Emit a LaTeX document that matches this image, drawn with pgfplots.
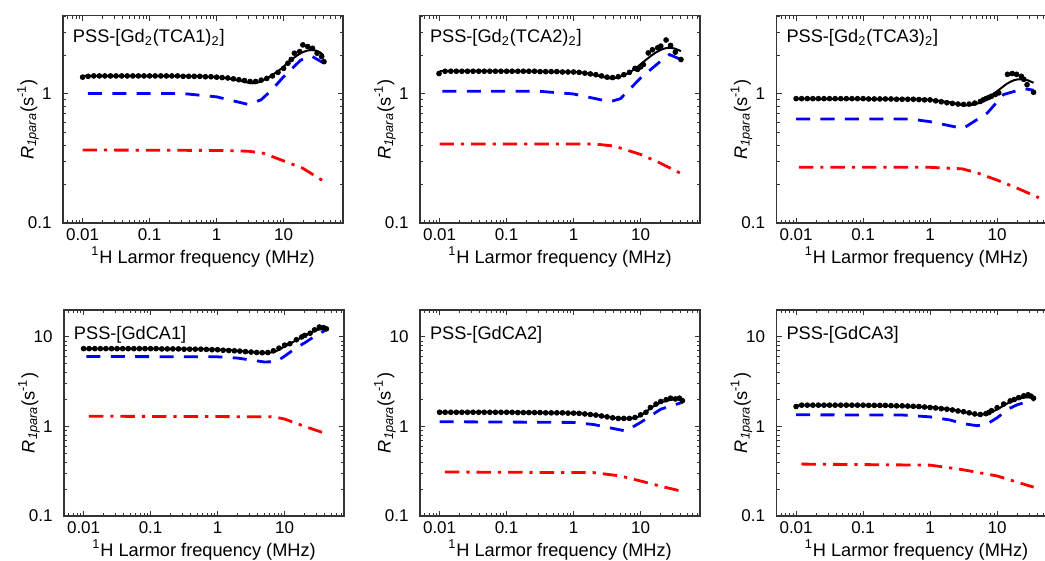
\documentclass[border=0pt]{standalone}
\usepackage{pgfplots}
\pgfplotsset{compat=1.18}
\usepackage{fontspec}
\setmainfont{Liberation Sans}

\pgfplotsset{
  every axis/.append style={
    xmode=log, ymode=log, scale only axis, width=140pt,
    xmin=0.0051, xmax=77,
    xtick={0.01,0.1,1,10}, xticklabels={0.01,0.1,1,10},
    minor xtick={0.006,0.007,0.008,0.009,0.02,0.03,0.04,0.05,0.06,0.07,0.08,0.09,0.2,0.3,0.4,0.5,0.6,0.7,0.8,0.9,2,3,4,5,6,7,8,9,20,30,40,50,60,70},
    tick align=inside, major tick length=2.6pt, minor tick length=1.5pt,
    axis line style={draw=black!80, line width=0.6pt},
    tick style={black!80, line width=0.5pt},
    tick label style={font=\fontsize{8.5}{9}\selectfont},
    xticklabel style={yshift=-1.6pt, inner sep=1pt, anchor=north},
    yticklabel style={xshift=-2.2pt},
    label style={font=\fontsize{9.1}{10}\selectfont},
    xlabel={\textsuperscript{1}H Larmor frequency (MHz)},
    xlabel style={at={(axis description cs:0.5,0)}, anchor=base, inner sep=0pt, yshift=-20.2pt},
    ylabel={\textit{R}\textsubscript{\textit{1para}}(s\textsuperscript{-1})},
    ylabel style={at={(axis description cs:-0.125,0.5)}, anchor=center},
    anchor=south west,
  },
}
\tikzset{
  rdots/.style={mark=*, mark size=1.2pt, black, draw=none},
  rfit/.style={black, line width=1pt, smooth},
  rinner/.style={blue, line width=1.4pt, dash pattern=on 7pt off 5.2pt},
  router/.style={red, line width=1.4pt, dash pattern=on 7.2pt off 3.5pt on 1.6pt off 3.5pt},
}
\newcommand{\paneltitle}[2]{\node[anchor=base west, inner sep=0pt, font=\fontsize{9.1}{10}\selectfont]
  at ([xshift=4.8pt,yshift=-#2]rel axis cs:0,1) {#1};}

\begin{document}
\begin{tikzpicture}

% ---- top row ----
\begin{axis}[at={(31.5pt,169pt)}, height=103.7pt, ymin=0.1, ymax=4.05,
    ytick={0.1,1}, yticklabels={0.1,1}, minor ytick={0.2,0.3,0.4,0.5,0.6,0.7,0.8,0.9,2,3,4}]
\addplot[rdots, only marks] coordinates {
(0.01,1.35)(0.0121,1.37)(0.0147,1.38)(0.0178,1.38)(0.0215,1.38)(0.0261,1.38)(0.0316,1.38)(0.0383,1.38)(0.0464,1.38)(0.0562,1.38)(0.0681,1.38)(0.0825,1.38)
(0.1,1.38)(0.121,1.38)(0.147,1.38)(0.178,1.38)(0.215,1.38)(0.261,1.38)(0.316,1.37)(0.383,1.37)(0.464,1.37)(0.562,1.37)(0.681,1.36)(0.825,1.36)
(1,1.35)(1.21,1.34)(1.47,1.33)(1.78,1.31)(2.15,1.29)(2.61,1.27)(3.16,1.25)(3.83,1.25)(4.64,1.28)(5.62,1.32)(6.81,1.38)(8.25,1.47)
(10,1.58)(11.6,1.73)(13,1.85)(14.5,2.07)(17.4,2.13)(19.4,2.40)(22.9,2.33)(27,2.26)(31.6,2.07)(37,1.95)(40,1.78)};
\addplot[rfit, no marks] coordinates {
(0.01,1.38)(0.1,1.38)(0.5,1.37)(1,1.35)(1.5,1.32)(2,1.28)(2.5,1.25)(3,1.22)(3.5,1.21)(4,1.22)(5,1.28)(6,1.35)(7,1.42)
(8.5,1.52)(10,1.63)(12,1.78)(14.5,1.92)(18,2.07)(22,2.16)(25,2.19)(30,2.17)(35,2.10)(39,2.0)};
\addplot[rinner, no marks] coordinates {
(0.012,1.01)(0.3,1.01)(1,0.95)(2.95,0.83)(4.6,0.90)(6.6,1.07)(10,1.36)(18,1.83)(26,1.97)(38,1.76)};
\addplot[router, no marks] coordinates {
(0.01,0.368)(1,0.365)(3,0.36)(5,0.347)(10,0.303)(19.5,0.265)(40,0.21)};
\paneltitle{PSS-[Gd\textsubscript{2}(TCA1)\textsubscript{2}]}{13.6pt}
\end{axis}

\begin{axis}[at={(210pt,169pt)}, height=103.7pt, ymin=0.1, ymax=4.05,
    ytick={0.1,1}, yticklabels={0.1,1}, minor ytick={0.2,0.3,0.4,0.5,0.6,0.7,0.8,0.9,2,3,4}]
\addplot[rdots, only marks] coordinates {
(0.0098,1.44)(0.0121,1.50)(0.0147,1.50)(0.0178,1.50)(0.0215,1.50)(0.0261,1.50)(0.0316,1.50)(0.0383,1.50)(0.0464,1.50)(0.0562,1.50)(0.0681,1.50)(0.0825,1.50)
(0.1,1.50)(0.121,1.50)(0.147,1.50)(0.178,1.50)(0.215,1.50)(0.261,1.50)(0.316,1.49)(0.383,1.49)(0.464,1.49)(0.562,1.49)(0.681,1.48)(0.825,1.48)
(1,1.48)(1.21,1.47)(1.47,1.45)(1.78,1.43)(2.15,1.41)(2.61,1.38)(3.16,1.35)(3.83,1.34)(4.64,1.36)(5.62,1.41)(6.81,1.47)(8.25,1.58)(9,1.55)
(10,1.62)(11,1.69)(13,2.08)(15,2.20)(18,2.28)(20,2.35)(24,2.62)(28,2.38)(33,2.11)(40,1.85)};
\addplot[rfit, no marks] coordinates {
(0.01,1.50)(0.1,1.50)(1,1.48)(2,1.41)(3,1.34)(3.5,1.32)(4.5,1.34)(6,1.42)(8,1.55)(10,1.70)(13,1.90)(17,2.10)(22,2.24)
(27,2.28)(32,2.25)(40,2.15)};
\addplot[rinner, no marks] coordinates {
(0.011,1.05)(0.3,1.05)(1,1.00)(3.5,0.87)(5,0.92)(10,1.33)(20,1.80)(27,2.02)(40,1.85)};
\addplot[router, no marks] coordinates {
(0.01,0.41)(1,0.41)(2,0.41)(4,0.395)(10,0.34)(20,0.29)(40,0.242)};
\paneltitle{PSS-[Gd\textsubscript{2}(TCA2)\textsubscript{2}]}{13.6pt}
\end{axis}

\begin{axis}[at={(388.25pt,169pt)}, height=103.7pt, ymin=0.1, ymax=4.05,
    ytick={0.1,1}, yticklabels={0.1,1}, minor ytick={0.2,0.3,0.4,0.5,0.6,0.7,0.8,0.9,2,3,4}]
\addplot[rdots, only marks] coordinates {
(0.01,0.92)(0.0121,0.92)(0.0147,0.92)(0.0178,0.92)(0.0215,0.92)(0.0261,0.92)(0.0316,0.92)(0.0383,0.92)(0.0464,0.92)(0.0562,0.92)(0.0681,0.92)(0.0825,0.92)
(0.1,0.92)(0.121,0.915)(0.147,0.915)(0.178,0.915)(0.215,0.915)(0.261,0.915)(0.316,0.91)(0.383,0.91)(0.464,0.91)(0.562,0.91)(0.681,0.905)(0.825,0.90)
(1,0.90)(1.21,0.885)(1.47,0.87)(1.78,0.855)(2.15,0.845)(2.61,0.835)(3.16,0.83)(3.83,0.835)(4.64,0.85)(5.62,0.875)(6.2,0.90)(6.81,0.92)(7.5,0.94)(8.25,0.96)(9.4,0.99)
(10.6,1.02)(14.3,1.42)(16.8,1.44)(19.5,1.42)(23,1.37)(25,1.30)(28,1.18)(35,1.03)};
\addplot[rfit, no marks] coordinates {
(0.01,0.92)(0.5,0.91)(1,0.90)(2,0.86)(3,0.82)(4,0.82)(5,0.84)(7,0.92)(10,1.05)(14,1.2)(18,1.28)(22,1.30)(28,1.28)(35,1.22)};
\addplot[rinner, no marks] coordinates {
(0.01,0.64)(0.5,0.64)(1,0.61)(3.1,0.54)(7.1,0.71)(12.5,0.99)(25,1.10)(35,1.07)};
\addplot[router, no marks] coordinates {
(0.011,0.27)(1,0.27)(3,0.263)(5,0.245)(10,0.215)(20,0.186)(42,0.157)};
\paneltitle{PSS-[Gd\textsubscript{2}(TCA3)\textsubscript{2}]}{13.6pt}
\end{axis}

% ---- bottom row ----
\begin{axis}[at={(32pt,22.5pt)}, height=103pt, ymin=0.1, ymax=20,
    ytick={0.1,1,10}, yticklabels={0.1,1,10}, minor ytick={0.2,0.3,0.4,0.5,0.6,0.7,0.8,0.9,2,3,4,5,6,7,8,9,20}]
\addplot[rdots, only marks] coordinates {
(0.01,7.4)(0.0121,7.4)(0.0147,7.4)(0.0178,7.4)(0.0215,7.4)(0.0261,7.4)(0.0316,7.4)(0.0383,7.4)(0.0464,7.4)(0.0562,7.4)(0.0681,7.4)(0.0825,7.4)
(0.1,7.4)(0.121,7.4)(0.147,7.35)(0.178,7.35)(0.215,7.35)(0.261,7.35)(0.316,7.3)(0.383,7.3)(0.464,7.3)(0.562,7.3)(0.681,7.25)(0.825,7.2)
(1,7.2)(1.21,7.1)(1.47,7.05)(1.78,7.0)(2.15,6.95)(2.61,6.85)(3.16,6.78)(3.83,6.7)(4.64,6.67)(5.62,6.7)(6.81,7.0)(8.25,7.5)
(10,8.1)(12,8.4)(15,9.3)(18,10.0)(20,10.4)(24,11.0)(28,12.0)(33,12.9)(38,12.7)(42,12.3)};
\addplot[rfit, no marks] coordinates {
(0.01,7.4)(0.1,7.4)(1,7.25)(2,7.0)(3,6.8)(5,6.65)(7,6.8)(10,7.8)(15,9.2)(20,10.3)(30,11.9)(40,12.3)};
\addplot[rinner, no marks] coordinates {
(0.011,6.05)(1,6.0)(2,5.8)(5,5.25)(7.5,5.3)(10,6.1)(15,7.6)(20,8.6)(30,10.5)(40,11.8)};
\addplot[router, no marks] coordinates {
(0.012,1.30)(1,1.29)(7,1.28)(10,1.21)(20,1.0)(40,0.84)};
\paneltitle{PSS-[GdCA1]}{14.8pt}
\end{axis}

\begin{axis}[at={(210pt,22.5pt)}, height=103pt, ymin=0.1, ymax=20,
    ytick={0.1,1,10}, yticklabels={0.1,1,10}, minor ytick={0.2,0.3,0.4,0.5,0.6,0.7,0.8,0.9,2,3,4,5,6,7,8,9,20}]
\addplot[rdots, only marks] coordinates {
(0.01,1.44)(0.0121,1.44)(0.0147,1.44)(0.0178,1.44)(0.0215,1.44)(0.0261,1.44)(0.0316,1.44)(0.0383,1.44)(0.0464,1.44)(0.0562,1.44)(0.0681,1.44)(0.0825,1.44)
(0.1,1.44)(0.121,1.44)(0.147,1.43)(0.178,1.43)(0.215,1.43)(0.261,1.43)(0.316,1.43)(0.383,1.42)(0.464,1.42)(0.562,1.42)(0.681,1.42)(0.825,1.41)
(1,1.41)(1.21,1.40)(1.47,1.38)(1.78,1.36)(2.15,1.34)(2.61,1.31)(3.16,1.28)(3.83,1.25)(4.64,1.23)(5.62,1.23)(6.81,1.23)(8.25,1.26)
(10,1.35)(12,1.44)(14,1.63)(17,1.78)(20,1.90)(24,1.99)(28,2.07)(33,2.03)(38,2.07)(42,1.94)};
\addplot[rfit, no marks] coordinates {
(0.01,1.44)(0.1,1.44)(1,1.41)(2,1.35)(4,1.25)(6,1.22)(8,1.24)(10,1.32)(15,1.65)(20,1.85)(30,2.0)(40,2.0)};
\addplot[rinner, no marks] coordinates {
(0.01,1.13)(1,1.11)(2,1.05)(6,0.89)(10,1.11)(20,1.56)(42,1.86)};
\addplot[router, no marks] coordinates {
(0.012,0.31)(2,0.305)(5,0.28)(10,0.246)(20,0.215)(40,0.19)};
\paneltitle{PSS-[GdCA2]}{14.8pt}
\end{axis}

\begin{axis}[at={(388.25pt,22.5pt)}, height=103pt, ymin=0.1, ymax=20,
    ytick={0.1,1,10}, yticklabels={0.1,1,10}, minor ytick={0.2,0.3,0.4,0.5,0.6,0.7,0.8,0.9,2,3,4,5,6,7,8,9,20}]
\addplot[rdots, only marks] coordinates {
(0.01,1.67)(0.0121,1.73)(0.0147,1.73)(0.0178,1.73)(0.0215,1.73)(0.0261,1.73)(0.0316,1.73)(0.0383,1.73)(0.0464,1.73)(0.0562,1.73)(0.0681,1.73)(0.0825,1.73)
(0.1,1.73)(0.121,1.72)(0.147,1.72)(0.178,1.72)(0.215,1.72)(0.261,1.71)(0.316,1.70)(0.383,1.70)(0.464,1.69)(0.562,1.68)(0.681,1.67)(0.825,1.65)
(1,1.63)(1.21,1.61)(1.47,1.58)(1.78,1.56)(2.15,1.53)(2.61,1.49)(3.16,1.46)(3.83,1.42)(4.64,1.38)(5.62,1.36)(6.81,1.39)(7.5,1.43)(8.25,1.50)
(10,1.62)(12.5,1.78)(15.7,1.93)(18,2.0)(21,2.1)(25,2.2)(29,2.26)(32,2.18)(35,2.07)};
\addplot[rfit, no marks] coordinates {
(0.01,1.72)(0.1,1.72)(1,1.64)(2,1.55)(3,1.47)(5,1.36)(7,1.38)(10,1.55)(15,1.85)(20,2.02)(28,2.12)(35,2.08)};
\addplot[rinner, no marks] coordinates {
(0.01,1.35)(0.4,1.34)(1,1.28)(2,1.18)(3,1.08)(5,1.02)(7,1.06)(10,1.25)(15,1.58)(20,1.75)(35,1.98)};
\addplot[router, no marks] coordinates {
(0.012,0.38)(1,0.37)(3,0.33)(10,0.28)(35,0.21)};
\paneltitle{PSS-[GdCA3]}{14.8pt}
\end{axis}

\pgfresetboundingbox
\path[use as bounding box] (0,0) rectangle (522.5pt,280.5pt);
\end{tikzpicture}
\end{document}
